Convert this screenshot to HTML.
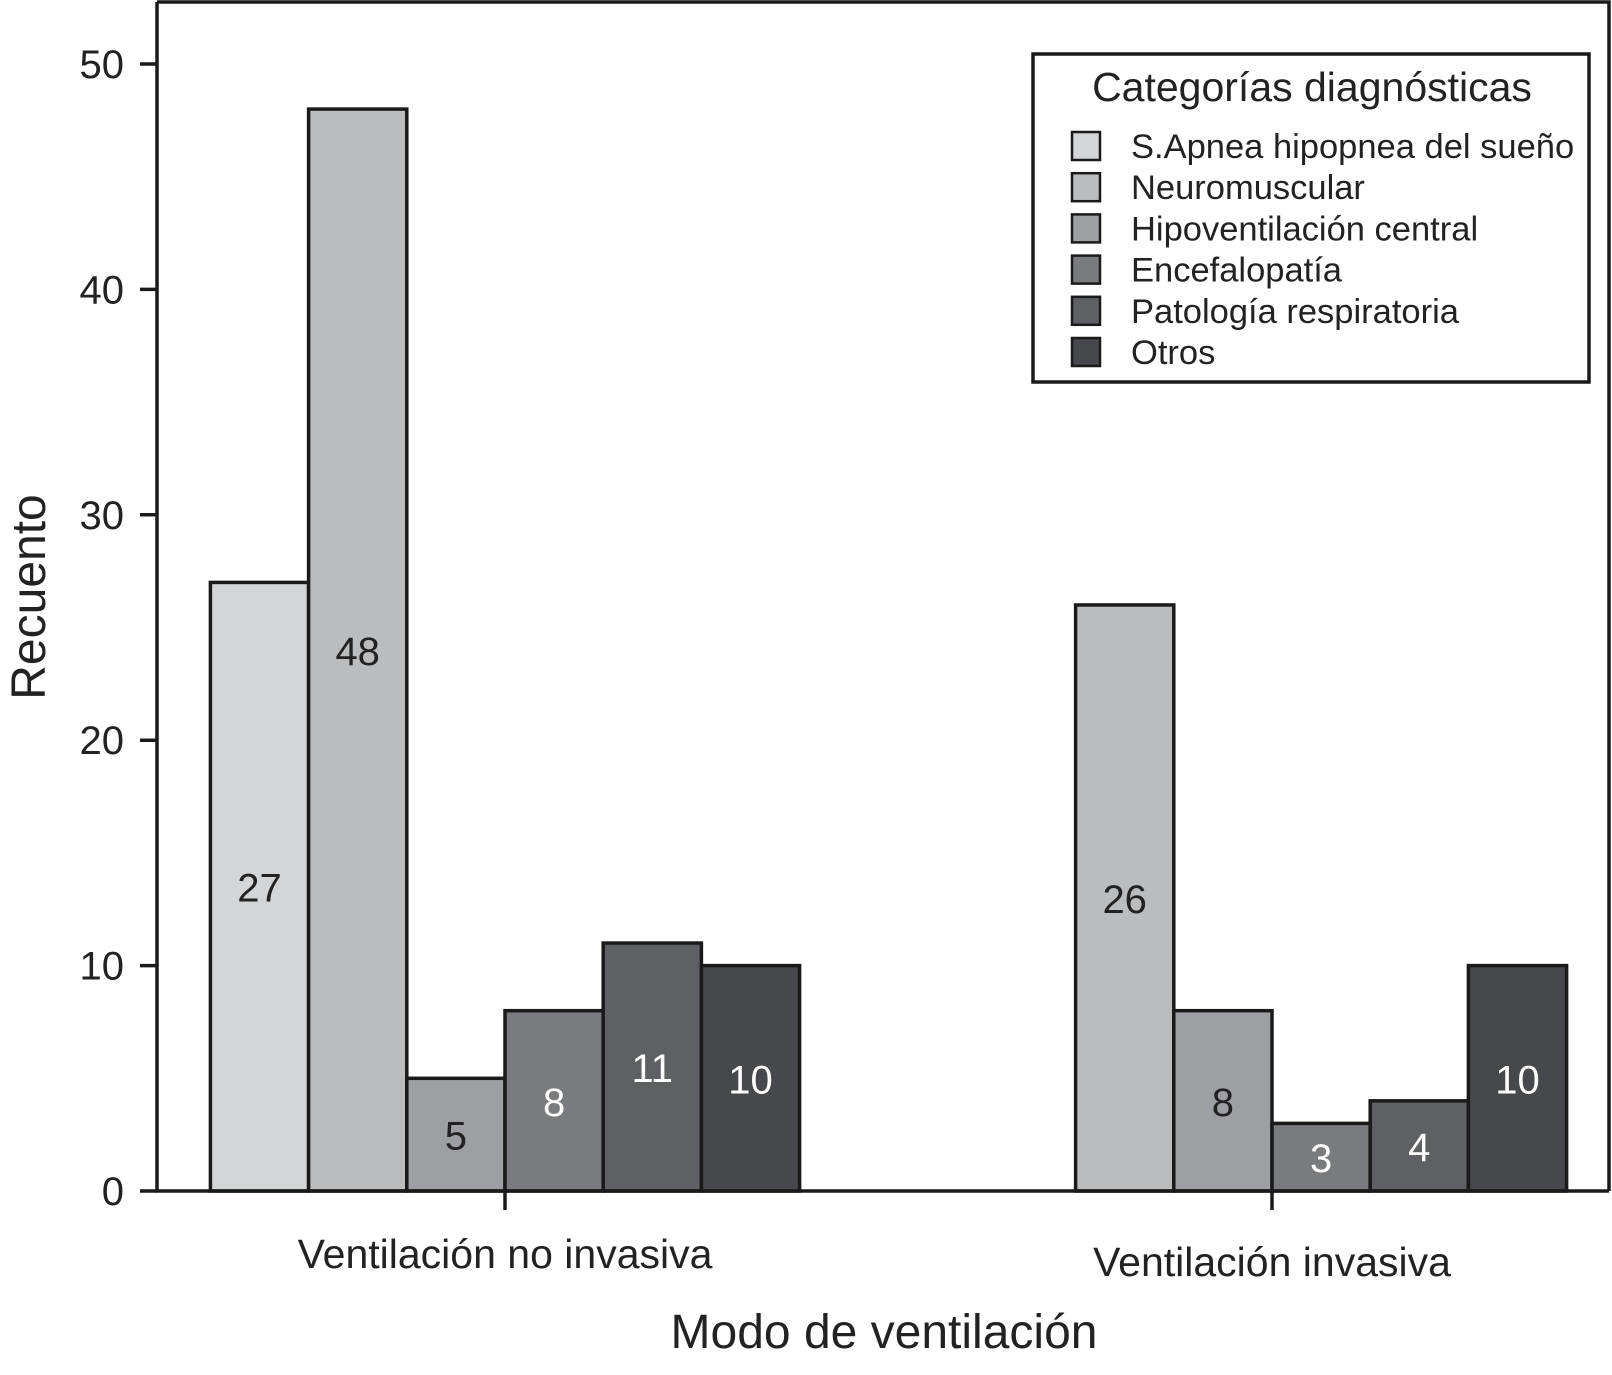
<!DOCTYPE html>
<html><head><meta charset="utf-8">
<style>
html,body{margin:0;padding:0;background:#fff;}
svg text{font-family:"Liberation Sans",sans-serif;}
</style></head>
<body>
<svg id="chart" width="1612" height="1370" xmlns="http://www.w3.org/2000/svg">
<rect x="0" y="0" width="1612" height="1370" fill="#fff"/>
<g id="bars"></g>
<g id="axes"></g>
<g id="legend"></g>
</svg>
<script>
const groups = ["Ventilación no invasiva", "Ventilación invasiva"];
const categories = ["S.Apnea hipopnea del sueño","Neuromuscular","Hipoventilación central","Encefalopatía","Patología respiratoria","Otros"];
const valuesNoInvasiva = [27, 48, 5, 8, 11, 10];
const valuesInvasiva = [0, 26, 8, 3, 4, 10];
const yTicks = [0, 10, 20, 30, 40, 50];
const colors = ["#d4d5d7","#bbbcbe","#9e9fa2","#7a7b7e","#5f6063","#47484b"];
const labelColors = ["#222","#222","#222","#fff","#fff","#fff"];

const NS = "http://www.w3.org/2000/svg";
const y0 = 1191, yPer = (1191-64)/50;
const yScale = v => y0 - v*yPer;
const groupCenters = [505, 1272];
const barW = 98.2;
const xScale = (g, c) => groupCenters[g] - 3*barW + c*barW;
function mk(tag, attrs, parent){const e=document.createElementNS(NS,tag);for(const k in attrs)e.setAttribute(k,attrs[k]);parent.appendChild(e);return e;}
const barsG=document.getElementById('bars'), axesG=document.getElementById('axes'), legG=document.getElementById('legend');
const series=[valuesNoInvasiva, valuesInvasiva];
series.forEach((vals,g)=>{
  vals.forEach((v,c)=>{
    if(v<=0) return;
    const x=xScale(g,c), y=yScale(v);
    const r=mk('rect',{x:x,y:y,width:barW,height:y0-y,fill:colors[c],stroke:'#1a1a1a','stroke-width':3.5},barsG);
    
    
    const t=mk('text',{x:x+barW/2,y:(y+y0)/2+15,'text-anchor':'middle','font-size':40,fill:labelColors[c]},barsG);
    t.textContent=v;
    
    
  });
});
const fr=mk('path',{d:'M157 2 H1609 V1191 M157 2 V1191 H1609',fill:'none',stroke:'#1a1a1a','stroke-width':3.5},axesG);


yTicks.forEach(v=>{
  const y=yScale(v);
  const l=mk('line',{x1:140,x2:157,y1:y,y2:y,stroke:'#1a1a1a','stroke-width':3.5},axesG);
  
  
  const t=mk('text',{x:124,y:y+14,'text-anchor':'end','font-size':40,fill:'#222'},axesG);
  t.textContent=v;
  
  
});
const labelYs=[1254,1262];
groups.forEach((gname,g)=>{
  const l=mk('line',{x1:groupCenters[g],x2:groupCenters[g],y1:1191,y2:1210,stroke:'#1a1a1a','stroke-width':3.5},axesG);
  
  
  const t=mk('text',{x:groupCenters[g],y:labelYs[g]+14,'text-anchor':'middle','font-size':41,fill:'#222'},axesG);
  t.textContent=gname;
  
  
});
const xt=mk('text',{x:884,y:1348,'text-anchor':'middle','font-size':48,fill:'#222'},axesG);
xt.textContent='Modo de ventilación';


const yt=mk('text',{x:0,y:0,'text-anchor':'middle','font-size':48,fill:'#222',transform:'translate(45,597) rotate(-90)'},axesG);
yt.textContent='Recuento';


const lb=mk('rect',{x:1033,y:54,width:556,height:328,fill:'#fff',stroke:'#1a1a1a','stroke-width':3.5},legG);


const lt=mk('text',{x:1312,y:101,'text-anchor':'middle','font-size':41,fill:'#222'},legG);
lt.textContent='Categorías diagnósticas';


categories.forEach((c,i)=>{
  const cy=146+i*41.2;
  const s=mk('rect',{x:1072,y:cy-14,width:28,height:28,fill:colors[i],stroke:'#1a1a1a','stroke-width':2.5},legG);
  
  
  const t=mk('text',{x:1131,y:cy+12,'font-size':34.5,fill:'#222'},legG);
  t.textContent=c;
  
  
});
</script>
</body></html>
